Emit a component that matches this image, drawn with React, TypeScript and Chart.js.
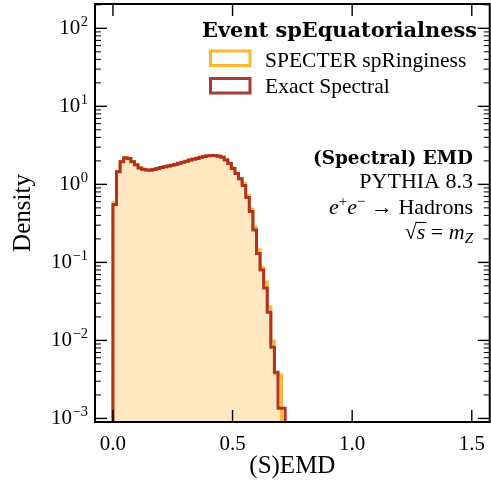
import React, { useEffect, useRef } from 'react';
import Chart from 'chart.js/auto';

// ---- data ----
const binEdges = [
  0.000, 0.015, 0.030, 0.045, 0.060, 0.075, 0.090, 0.105, 0.120, 0.135,
  0.150, 0.165, 0.180, 0.195, 0.210, 0.225, 0.240, 0.255, 0.270, 0.285,
  0.300, 0.315, 0.330, 0.345, 0.360, 0.375, 0.390, 0.405, 0.420, 0.435,
  0.450, 0.465, 0.480, 0.495, 0.510, 0.525, 0.540, 0.555, 0.570, 0.585,
  0.600, 0.615, 0.630, 0.645, 0.660, 0.675, 0.690, 0.705, 0.720,
];

const exactSpectral = [
  0.55, 1.45, 1.95, 2.2, 2.15, 1.95, 1.78, 1.62, 1.56, 1.53,
  1.52, 1.55, 1.6, 1.64, 1.68, 1.72, 1.76, 1.8, 1.86, 1.92,
  1.98, 2.05, 2.1, 2.15, 2.22, 2.28, 2.32, 2.34, 2.34, 2.3,
  2.22, 2.05, 1.85, 1.6, 1.38, 1.18, 0.97, 0.68, 0.45, 0.26,
  0.13, 0.08, 0.047, 0.023, 0.0082, 0.0039, 0.00135, 0.00135,
];

const specterRinginess = [
  0.58, 1.47, 1.97, 2.2, 2.13, 1.96, 1.77, 1.63, 1.55, 1.55,
  1.54, 1.55, 1.59, 1.64, 1.67, 1.72, 1.75, 1.81, 1.85, 1.9,
  1.97, 2.03, 2.12, 2.17, 2.22, 2.29, 2.33, 2.35, 2.34, 2.31,
  2.24, 2.08, 1.88, 1.62, 1.4, 1.2, 1.02, 0.72, 0.48, 0.28,
  0.145, 0.086, 0.056, 0.027, 0.0098, 0.0037, 0.0036, 0,
];

const xTickValues = [0, 0.5, 1.0, 1.5];
const xTickLabels = ['0.0', '0.5', '1.0', '1.5'];
const yTickValues = [1e-3, 1e-2, 1e-1, 1, 10, 100];
const yTickExponents = ['\u22123', '\u22122', '\u22121', '0', '1', '2'];

const seriesLabels = ['SPECTER spRinginess', 'Exact Spectral'];
const legendTitle = 'Event spEquatorialness';

// ---- styling ----
const X_MIN = -0.075;
const X_MAX = 1.575;
const Y_MIN = 9e-4;
const Y_MAX = 205;

const SERIF = '"Liberation Serif", "Times New Roman", serif';
const BOLD_FAMILY = '"DejaVu Serif", serif';
const ORANGE = '#FFB633';
const PEACH = '#FFE7C2';
const RED = 'rgba(165, 35, 28, 0.9)';
const RED_LEGEND = '#A83A38';

function histPoints(values: number[]) {
  const pts: { x: number; y: number }[] = [{ x: binEdges[0], y: Y_MIN }];
  values.forEach((v, i) => pts.push({ x: binEdges[i], y: v > 0 ? v : Y_MIN }));
  pts.push({ x: binEdges[values.length], y: Y_MIN });
  return pts;
}

type Run = { text: string; font: string; dy?: number; overline?: boolean };

function drawRunsRight(ctx: CanvasRenderingContext2D, runs: Run[], xRight: number, baseline: number) {
  let total = 0;
  const widths = runs.map((r) => {
    ctx.font = r.font;
    const w = ctx.measureText(r.text).width;
    total += w;
    return w;
  });
  let x = xRight - total;
  ctx.textAlign = 'left';
  ctx.textBaseline = 'alphabetic';
  runs.forEach((r, i) => {
    ctx.font = r.font;
    ctx.fillText(r.text, x, baseline + (r.dy || 0));
    if (r.overline) {
      ctx.beginPath();
      ctx.lineWidth = 1.1;
      ctx.moveTo(x - 1, baseline - 16.5);
      ctx.lineTo(x + widths[i] + 1, baseline - 16.5);
      ctx.stroke();
    }
    x += widths[i];
  });
}

function fitSize(ctx: CanvasRenderingContext2D, text: string, weight: string, family: string, target: number) {
  ctx.font = `${weight} 100px ${family}`;
  return (100 * target) / ctx.measureText(text).width;
}

const overlay = {
  id: 'overlay',
  afterDatasetsDraw(chart: any) {
    const ctx: CanvasRenderingContext2D = chart.ctx;
    const { left, right, top, bottom } = chart.chartArea;
    const xs = chart.scales.x;
    const ys = chart.scales.y;
    const line = (x1: number, y1: number, x2: number, y2: number) => {
      ctx.beginPath();
      ctx.moveTo(x1, y1);
      ctx.lineTo(x2, y2);
      ctx.stroke();
    };
    ctx.save();
    ctx.strokeStyle = '#000';
    ctx.fillStyle = '#000';

    // minor y ticks (inward, both sides)
    ctx.lineWidth = 1;
    for (let k = -4; k <= 2; k++) {
      for (let m = 2; m <= 9; m++) {
        const v = m * Math.pow(10, k);
        if (v < Y_MIN || v > Y_MAX) continue;
        const py = ys.getPixelForValue(v);
        line(left, py, left + 6, py);
        line(right - 6, py, right, py);
      }
    }
    // major y ticks
    ctx.lineWidth = 1.4;
    yTickValues.forEach((v) => {
      const py = ys.getPixelForValue(v);
      line(left, py, left + 12, py);
      line(right - 12, py, right, py);
    });
    // major x ticks
    xTickValues.forEach((v) => {
      const px = xs.getPixelForValue(v);
      line(px, bottom, px, bottom - 12);
      line(px, top, px, top + 12);
    });
    // frame
    ctx.lineWidth = 2;
    ctx.strokeRect(left, top, right - left, bottom - top);

    // y tick labels with superscripts
    const labelRight = left - 7;
    yTickValues.forEach((v, i) => {
      const py = ys.getPixelForValue(v);
      ctx.textAlign = 'right';
      ctx.textBaseline = 'alphabetic';
      ctx.font = `14.5px ${SERIF}`;
      const ew = ctx.measureText(yTickExponents[i]).width;
      ctx.fillText(yTickExponents[i], labelRight, py - 2);
      ctx.font = `21px ${SERIF}`;
      ctx.fillText('10', labelRight - ew - 0.5, py + 6);
    });

    // legend
    const titleSize = fitSize(ctx, legendTitle, 'bold', BOLD_FAMILY, 275);
    ctx.font = `bold ${titleSize}px ${BOLD_FAMILY}`;
    ctx.textAlign = 'center';
    ctx.textBaseline = 'alphabetic';
    ctx.fillText(legendTitle, 339.5, 36.5);

    const patchColors = [ORANGE, RED_LEGEND];
    const patchY = [51, 78.5];
    const textBase = [66.5, 92.5];
    ctx.lineWidth = 3;
    seriesLabels.forEach((lab, i) => {
      ctx.strokeStyle = patchColors[i];
      ctx.strokeRect(210.5, patchY[i], 39.5, 14.5);
      ctx.fillStyle = '#000';
      ctx.font = `21.5px ${SERIF}`;
      ctx.textAlign = 'left';
      ctx.fillText(lab, 265, textBase[i]);
    });

    // annotation block
    ctx.strokeStyle = '#000';
    ctx.fillStyle = '#000';
    const boldText = '(Spectral) EMD';
    const bs = fitSize(ctx, boldText, 'bold', BOLD_FAMILY, 160);
    ctx.font = `bold ${bs}px ${BOLD_FAMILY}`;
    ctx.textAlign = 'right';
    ctx.fillText(boldText, 473, 164);
    ctx.font = `22px ${SERIF}`;
    ctx.fillText('PYTHIA 8.3', 473, 188);
    const it = `italic 22px ${SERIF}`;
    const rg = `22px ${SERIF}`;
    const sm = `15px ${SERIF}`;
    drawRunsRight(ctx, [
      { text: 'e', font: it },
      { text: '+', font: sm, dy: -8 },
      { text: 'e', font: it },
      { text: '\u2212', font: sm, dy: -8 },
      { text: ' \u2192 Hadrons', font: rg },
    ], 473, 214);
    drawRunsRight(ctx, [
      { text: '\u221A', font: rg },
      { text: 's', font: it, overline: true },
      { text: ' = ', font: rg },
      { text: 'm', font: it },
      { text: 'Z', font: `italic 15px ${SERIF}`, dy: 4 },
    ], 473, 239);

    ctx.restore();
  },
};

export default function App() {
  const ref = useRef<HTMLCanvasElement>(null);
  useEffect(() => {
    const canvas = ref.current;
    if (!canvas) return;
    const chart = new Chart(canvas, {
      type: 'line',
      data: {
        datasets: [
          {
            label: seriesLabels[1],
            data: histPoints(exactSpectral),
            borderColor: RED,
            borderWidth: 3,
            stepped: 'before',
            pointRadius: 0,
            fill: false,
            order: 1,
          },
          {
            label: seriesLabels[0],
            data: histPoints(specterRinginess),
            borderColor: ORANGE,
            backgroundColor: PEACH,
            borderWidth: 3,
            stepped: 'before',
            pointRadius: 0,
            fill: 'start',
            order: 2,
          },
        ],
      },
      options: {
        responsive: false,
        animation: false,
        devicePixelRatio: 1,
        layout: { padding: { top: 4, right: 2, left: 0, bottom: 0 } },
        plugins: { legend: { display: false }, tooltip: { enabled: false } },
        scales: {
          x: {
            type: 'linear',
            min: X_MIN,
            max: X_MAX,
            afterFit: (s: any) => {
              s.height = 67;
            },
            afterBuildTicks: (s: any) => {
              s.ticks = xTickValues.map((v) => ({ value: v }));
            },
            ticks: {
              callback: (v: any) => xTickLabels[xTickValues.indexOf(Number(v))],
              font: { family: SERIF, size: 21 },
              color: '#000',
              padding: 10,
              maxRotation: 0,
              autoSkip: false,
            },
            grid: { display: false, drawTicks: false },
            border: { display: false },
            title: {
              display: true,
              text: '(S)EMD',
              font: { family: SERIF, size: 25 },
              color: '#000',
              padding: { top: 0, bottom: 8 },
            },
          },
          y: {
            type: 'logarithmic',
            min: Y_MIN,
            max: Y_MAX,
            afterFit: (s: any) => {
              s.width = 95;
            },
            ticks: { display: false },
            grid: { display: false, drawTicks: false },
            border: { display: false },
            title: {
              display: true,
              text: 'Density',
              font: { family: SERIF, size: 25 },
              color: '#000',
              padding: { top: 8, bottom: 0 },
            },
          },
        },
      } as any,
      plugins: [overlay],
    } as any);
    return () => chart.destroy();
  }, []);
  return (
    <div
      style={{
        position: 'fixed',
        left: 0,
        top: 0,
        width: 491,
        height: 489,
        overflow: 'hidden',
        background: '#fff',
      }}
    >
      <canvas ref={ref} width={495} height={489} style={{ display: 'block', width: 495, height: 489 }} />
    </div>
  );
}
